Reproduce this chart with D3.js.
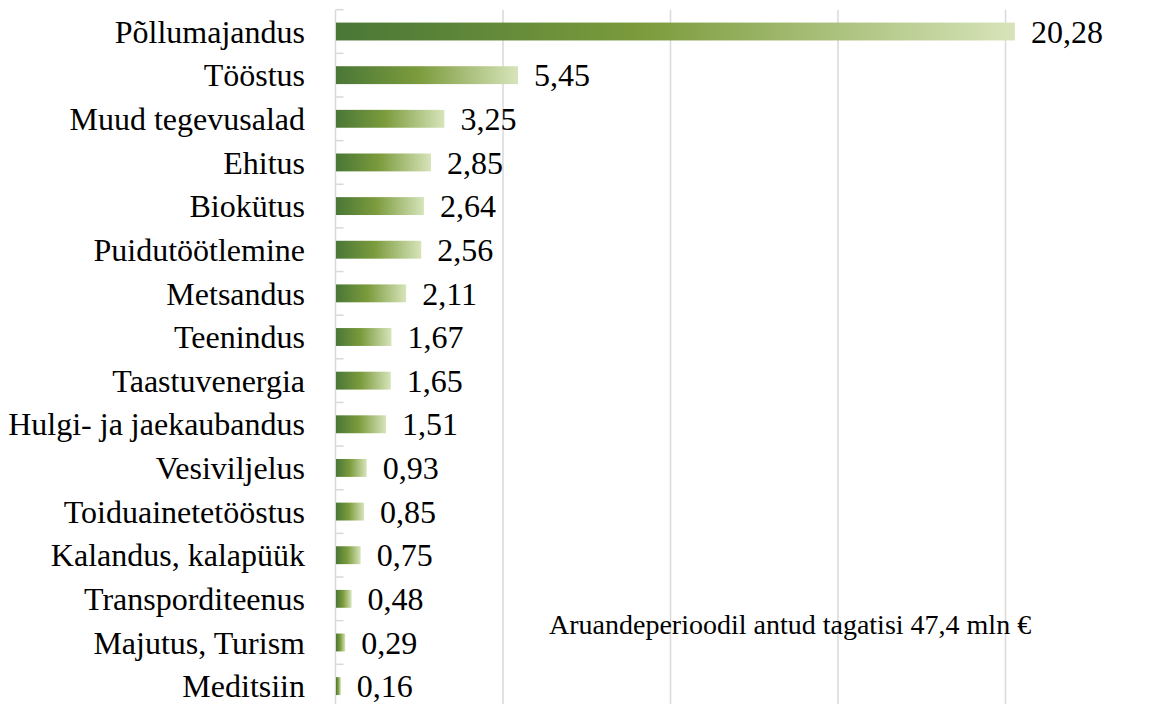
<!DOCTYPE html>
<html lang="et">
<head>
<meta charset="UTF-8">
<title>Tagatised tegevusalade kaupa</title>
<script src="https://cdn.jsdelivr.net/npm/d3@7/dist/d3.min.js"></script>
<style>
  body { margin: 0; background: #fff; }
  text { font-family: "Liberation Serif", "Times New Roman", serif; fill: #000; }
</style>
</head>
<body>
<svg width="1162" height="704"></svg>
<script>
// andmed
var categories = ["Põllumajandus", "Tööstus", "Muud tegevusalad", "Ehitus", "Biokütus",
  "Puidutöötlemine", "Metsandus", "Teenindus", "Taastuvenergia", "Hulgi- ja jaekaubandus",
  "Vesiviljelus", "Toiduainetetööstus", "Kalandus, kalapüük", "Transporditeenus",
  "Majutus, Turism", "Meditsiin"];
var values = [20.28, 5.45, 3.25, 2.85, 2.64, 2.56, 2.11, 1.67, 1.65, 1.51, 0.93, 0.85, 0.75, 0.48, 0.29, 0.16];
var gridTicks = [5, 10, 15, 20];
var note = "Aruandeperioodil antud tagatisi 47,4 mln €";

var svg = d3.select("svg");
var fmt = function (v) { return v.toFixed(2).replace(".", ","); };

// skaalad
var x = d3.scaleLinear().domain([0, 24]).range([335.5, 335.5 + 24 * 33.5]);
var y = d3.scaleBand().domain(categories).range([9.7, 9.7 + 16 * 43.64]).paddingInner(0.59).paddingOuter(0.295);
var band = d3.scaleBand().domain(categories).range([9.7, 9.7 + 16 * 43.64]);

// gradient
var grad = svg.append("defs").append("linearGradient").attr("id", "g1");
grad.append("stop").attr("offset", "0%").attr("stop-color", "#4a7737");
grad.append("stop").attr("offset", "45%").attr("stop-color", "#7b9b3c");
grad.append("stop").attr("offset", "100%").attr("stop-color", "#d7e4ba");

// ruudustik
svg.append("g").selectAll("line").data(gridTicks).enter().append("line")
  .attr("x1", function (d) { return x(d); }).attr("x2", function (d) { return x(d); })
  .attr("y1", band.range()[0]).attr("y2", band.range()[1])
  .attr("stroke", "#d9d9d9").attr("stroke-width", 1.5);

// kategooriate telg
svg.append("line").attr("x1", x(0)).attr("x2", x(0))
  .attr("y1", band.range()[0]).attr("y2", band.range()[1])
  .attr("stroke", "#d9d9d9").attr("stroke-width", 1.5);
var tickPos = d3.range(17).map(function (i) { return band.range()[0] + i * band.step(); });
svg.append("g").selectAll("line").data(tickPos).enter().append("line")
  .attr("x1", x(0)).attr("x2", x(0) + 8)
  .attr("y1", function (d) { return d; }).attr("y2", function (d) { return d; })
  .attr("stroke", "#d9d9d9").attr("stroke-width", 1.5);

// tulbad
svg.append("g").selectAll("rect").data(values).enter().append("rect")
  .attr("x", x(0) + 0.5)
  .attr("y", function (d, i) { return y(categories[i]); })
  .attr("width", function (d) { return x(d) - x(0) - 0.5; })
  .attr("height", y.bandwidth())
  .attr("fill", "url(#g1)");

// sildid
svg.append("g").selectAll("text").data(categories).enter().append("text")
  .attr("x", 305)
  .attr("y", function (d) { return band(d) + band.bandwidth() / 2; })
  .attr("dy", "0.35em").attr("text-anchor", "end")
  .style("font-size", "32px")
  .text(function (d) { return d; });

svg.append("g").selectAll("text").data(values).enter().append("text")
  .attr("x", function (d) { return x(d) + 16; })
  .attr("y", function (d, i) { return band(categories[i]) + band.bandwidth() / 2; })
  .attr("dy", "0.35em")
  .style("font-size", "32px")
  .text(function (d) { return fmt(d); });

svg.append("text").attr("x", 549).attr("y", 624).attr("dy", "0.35em")
  .style("font-size", "28px").text(note);
</script>
</body>
</html>
